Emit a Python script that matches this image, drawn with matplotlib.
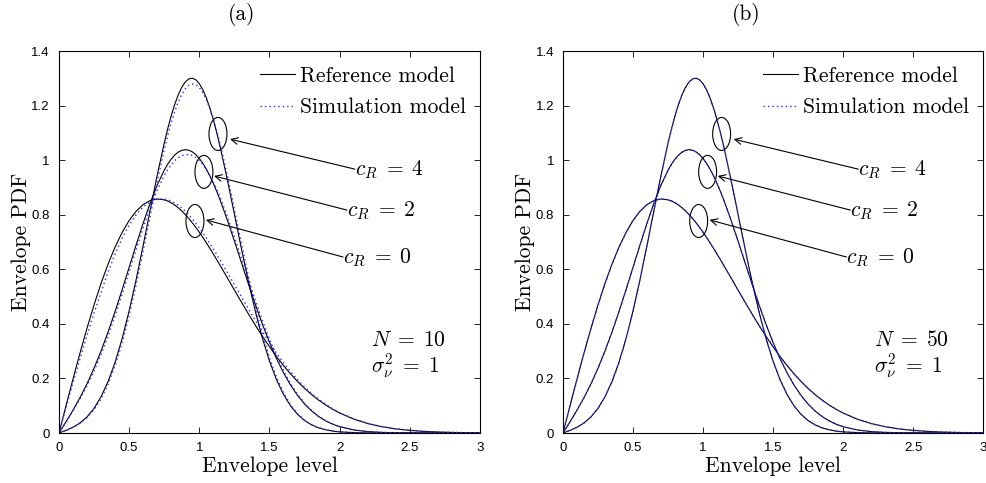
import matplotlib
matplotlib.use("Agg")
import matplotlib.pyplot as plt
from matplotlib.patches import Ellipse
from matplotlib.lines import Line2D

plt.rcParams["mathtext.fontset"] = "cm"
plt.rcParams["font.family"] = ["cmr10", "DejaVu Serif"]
plt.rcParams["axes.unicode_minus"] = False

# Envelope levels at which the PDFs are sampled (finer around the peaks)
level = [0.00, 0.05, 0.10, 0.15, 0.20, 0.25, 0.30, 0.35, 0.40, 0.45, 0.50, 0.55, 0.60, 0.65, 0.70, 0.75,
         0.775, 0.800, 0.825, 0.850, 0.875, 0.900, 0.925, 0.950, 0.975, 1.000, 1.025, 1.050, 1.075, 1.100, 1.125, 1.150,
         1.20, 1.25, 1.30, 1.35, 1.40, 1.45, 1.50, 1.55, 1.60, 1.65, 1.70, 1.75, 1.80, 1.85, 1.90, 1.95, 2.00,
         2.10, 2.20, 2.30, 2.40, 2.50, 2.60, 2.70, 2.80, 2.90, 3.00]

# Reference model envelope PDFs (c_R = 0, 2, 4)
ref_c0 = [0, 0.0998, 0.1980, 0.2933, 0.3843, 0.4697, 0.5484, 0.6193, 0.6817, 0.7350, 0.7788, 0.8129, 0.8372, 0.8520, 0.8577, 0.8547,
          0.8501, 0.8437, 0.8354, 0.8254, 0.8138, 0.8007, 0.7863, 0.7705, 0.7537, 0.7358, 0.7169, 0.6973, 0.6769, 0.6560, 0.6346, 0.6129,
          0.5686, 0.5240, 0.4798, 0.4364, 0.3944, 0.3542, 0.3162, 0.2805, 0.2474, 0.2168, 0.1890, 0.1637, 0.1410, 0.1207, 0.1028, 0.0870, 0.0733,
          0.0511, 0.0348, 0.0232, 0.0151, 0.0097, 0.0060, 0.0037, 0.0022, 0.0013, 0.0007]
ref_c2 = [0, 0.0409, 0.0836, 0.1298, 0.1807, 0.2376, 0.3008, 0.3703, 0.4455, 0.5250, 0.6071, 0.6893, 0.7690, 0.8431, 0.9087, 0.9631,
          0.9854, 1.0039, 1.0187, 1.0294, 1.0360, 1.0384, 1.0365, 1.0305, 1.0204, 1.0063, 0.9885, 0.9671, 0.9424, 0.9147, 0.8843, 0.8515,
          0.7802, 0.7037, 0.6248, 0.5462, 0.4700, 0.3982, 0.3322, 0.2728, 0.2207, 0.1757, 0.1378, 0.1064, 0.0809, 0.0606, 0.0447, 0.0324, 0.0232,
          0.0113, 0.0052, 0.0023, 0.0009, 0.0004, 0.0001, 0, 0, 0, 0]
ref_c4 = [0, 0.0095, 0.0211, 0.0369, 0.0592, 0.0904, 0.1329, 0.1886, 0.2593, 0.3458, 0.4476, 0.5626, 0.6876, 0.8170, 0.9443, 1.0622,
          1.1151, 1.1629, 1.2046, 1.2395, 1.2670, 1.2865, 1.2978, 1.3005, 1.2947, 1.2805, 1.2583, 1.2283, 1.1913, 1.1479, 1.0989, 1.0452,
          0.9275, 0.8020, 0.6758, 0.5551, 0.4443, 0.3467, 0.2637, 0.1955, 0.1413, 0.0995, 0.0684, 0.0458, 0.0299, 0.0190, 0.0118, 0.0071, 0.0042,
          0.0014, 0.0004, 0.0001, 0, 0, 0, 0, 0, 0, 0]

# Simulation model, N = 10
sim10_c0 = [0, 0.0925, 0.1838, 0.2728, 0.3584, 0.4396, 0.5154, 0.5899, 0.6562, 0.7136, 0.7617, 0.8001, 0.8286, 0.8475, 0.8572, 0.8578,
            0.8549, 0.8502, 0.8434, 0.8349, 0.8246, 0.8128, 0.7996, 0.7849, 0.7690, 0.7520, 0.7338, 0.7149, 0.6950, 0.6746, 0.6536, 0.6322,
            0.5882, 0.5436, 0.4991, 0.4552, 0.4125, 0.3714, 0.3324, 0.2929, 0.2576, 0.2250, 0.1954, 0.1690, 0.1453, 0.1241, 0.1055, 0.0891, 0.0748,
            0.0521, 0.0353, 0.0235, 0.0153, 0.0098, 0.0061, 0.0037, 0.0022, 0.0013, 0.0007]
sim10_c2 = [0, 0.0395, 0.0807, 0.1249, 0.1735, 0.2276, 0.2875, 0.3558, 0.4300, 0.5088, 0.5904, 0.6723, 0.7517, 0.8253, 0.8901, 0.9433,
            0.9652, 0.9833, 0.9982, 1.0090, 1.0167, 1.0203, 1.0206, 1.0168, 1.0097, 0.9986, 0.9841, 0.9660, 0.9444, 0.9197, 0.8917, 0.8612,
            0.7931, 0.7184, 0.6403, 0.5617, 0.4848, 0.4120, 0.3447, 0.2828, 0.2285, 0.1815, 0.1420, 0.1092, 0.0827, 0.0617, 0.0453, 0.0327, 0.0233,
            0.0114, 0.0052, 0.0023, 0.0009, 0.0004, 0.0001, 0, 0, 0, 0]
sim10_c4 = [0, 0.0092, 0.0204, 0.0354, 0.0564, 0.0855, 0.1250, 0.1785, 0.2467, 0.3307, 0.4303, 0.5434, 0.6667, 0.7951, 0.9215, 1.0383,
            1.0905, 1.1377, 1.1789, 1.2134, 1.2413, 1.2612, 1.2744, 1.2790, 1.2766, 1.2659, 1.2482, 1.2227, 1.1903, 1.1515, 1.1063, 1.0564,
            0.9438, 0.8207, 0.6951, 0.5736, 0.4610, 0.3611, 0.2758, 0.2041, 0.1471, 0.1031, 0.0705, 0.0470, 0.0304, 0.0192, 0.0119, 0.0071, 0.0042,
            0.0014, 0.0004, 0.0001, 0, 0, 0, 0, 0, 0, 0]

# Simulation model, N = 50
sim50_c0 = [0, 0.0990, 0.1968, 0.2918, 0.3826, 0.4679, 0.5466, 0.6177, 0.6803, 0.7339, 0.7781, 0.8126, 0.8372, 0.8523, 0.8582, 0.8553,
            0.8508, 0.8444, 0.8361, 0.8261, 0.8145, 0.8013, 0.7869, 0.7711, 0.7542, 0.7363, 0.7174, 0.6978, 0.6773, 0.6564, 0.6350, 0.6132,
            0.5688, 0.5241, 0.4798, 0.4364, 0.3944, 0.3542, 0.3163, 0.2806, 0.2475, 0.2169, 0.1891, 0.1638, 0.1411, 0.1208, 0.1029, 0.0871, 0.0734,
            0.0512, 0.0349, 0.0232, 0.0151, 0.0097, 0.0060, 0.0037, 0.0022, 0.0013, 0.0007]
sim50_c2 = [0, 0.0406, 0.0831, 0.1291, 0.1799, 0.2367, 0.2998, 0.3693, 0.4445, 0.5240, 0.6062, 0.6885, 0.7683, 0.8424, 0.9080, 0.9624,
            0.9847, 1.0031, 1.0179, 1.0286, 1.0352, 1.0377, 1.0359, 1.0300, 1.0200, 1.0061, 0.9884, 0.9671, 0.9425, 0.9149, 0.8845, 0.8518,
            0.7806, 0.7041, 0.6252, 0.5465, 0.4703, 0.3984, 0.3323, 0.2729, 0.2208, 0.1758, 0.1378, 0.1064, 0.0809, 0.0606, 0.0447, 0.0324, 0.0232,
            0.0113, 0.0052, 0.0023, 0.0009, 0.0004, 0.0001, 0, 0, 0, 0]
sim50_c4 = [0, 0.0094, 0.0209, 0.0366, 0.0588, 0.0899, 0.1322, 0.1878, 0.2584, 0.3448, 0.4466, 0.5616, 0.6866, 0.8160, 0.9432, 1.0610,
            1.1139, 1.1617, 1.2034, 1.2382, 1.2657, 1.2852, 1.2965, 1.2993, 1.2936, 1.2796, 1.2577, 1.2279, 1.1911, 1.1479, 1.0991, 1.0455,
            0.9280, 0.8025, 0.6763, 0.5555, 0.4446, 0.3469, 0.2638, 0.1956, 0.1414, 0.0996, 0.0684, 0.0458, 0.0299, 0.0190, 0.0118, 0.0071, 0.0042,
            0.0014, 0.0004, 0.0001, 0, 0, 0, 0, 0, 0, 0]

x_ticks = [0, 0.5, 1, 1.5, 2, 2.5, 3]
x_tick_labels = ["0", "0.5", "1", "1.5", "2", "2.5", "3"]
y_ticks = [0, 0.2, 0.4, 0.6, 0.8, 1.0, 1.2, 1.4]
y_tick_labels = ["0", "0.2", "0.4", "0.6", "0.8", "1", "1.2", "1.4"]

rice_factors = [r"$c_R \;=\; 4$", r"$c_R \;=\; 2$", r"$c_R \;=\; 0$"]
# ellipse centre, arrow head, arrow tail (data coordinates)
callouts = [((1.133, 1.096), (1.219, 1.077), (2.109, 0.967)),
            ((1.033, 0.957), (1.105, 0.942), (2.052, 0.817)),
            ((0.969, 0.777), (1.047, 0.781), (2.024, 0.645))]

SIM_COLOR = "#2a2aff"
TEXT_SIZE = 15.5


def draw_panel(ax, sims, n_text):
    for ref in (ref_c0, ref_c2, ref_c4):
        ax.plot(level, ref, color="black", lw=0.8)
    for sim in sims:
        ax.plot(level, sim, color=SIM_COLOR, lw=1.0, ls=(0, (1, 2.2)))

    ax.set_xlim(0, 3)
    ax.set_ylim(0, 1.4)
    ax.set_xticks(x_ticks)
    ax.set_xticklabels(x_tick_labels, fontfamily="Liberation Sans", fontsize=9.5)
    ax.set_yticks(y_ticks)
    ax.set_yticklabels(y_tick_labels, fontfamily="Liberation Sans", fontsize=9.5)
    ax.tick_params(direction="in", top=True, right=True, length=4, width=0.6, pad=6.5)
    for sp in ax.spines.values():
        sp.set_linewidth(0.8)

    ax.set_xlabel("Envelope level", fontsize=TEXT_SIZE)
    ax.set_ylabel("Envelope PDF", fontsize=TEXT_SIZE)
    ax.xaxis.set_label_coords(0.5, -0.062)
    ax.yaxis.set_label_coords(-0.066, 0.5)

    for label, (centre, head, tail) in zip(rice_factors, callouts):
        ax.add_patch(Ellipse(centre, 0.128, 0.121, fill=False, lw=0.8, color="black"))
        ax.annotate("", xy=head, xytext=tail,
                    arrowprops=dict(arrowstyle="->", lw=0.8, color="black",
                                    shrinkA=0, shrinkB=0, mutation_scale=12))
        ax.text(tail[0], tail[1], label, fontsize=TEXT_SIZE, ha="left", va="center")

    ax.text(2.22, 0.341, n_text, fontsize=TEXT_SIZE, ha="left", va="center")
    ax.text(2.22, 0.2455, r"$\sigma_\nu^2 \;=\; 1$", fontsize=TEXT_SIZE, ha="left", va="center")

    handles = [Line2D([], [], color="black", lw=0.8),
               Line2D([], [], color=SIM_COLOR, lw=1.0, ls=(0, (1, 2.2)))]
    ax.legend(handles, ["Reference model", "Simulation model"], loc="upper right",
              bbox_to_anchor=(0.967, 0.96), frameon=False, fontsize=TEXT_SIZE,
              handlelength=1.6, handletextpad=0.25, labelspacing=0.55,
              borderpad=0, borderaxespad=0)


fig = plt.figure(figsize=(9.86, 4.83), dpi=100)
ax_a = fig.add_axes([0.0598, 0.1035, 0.4270, 0.7909])
ax_b = fig.add_axes([0.5710, 0.1035, 0.4260, 0.7909])

draw_panel(ax_a, (sim10_c0, sim10_c2, sim10_c4), r"$N \;=\; 10$")
draw_panel(ax_b, (sim50_c0, sim50_c2, sim50_c4), r"$N \;=\; 50$")

fig.text(0.2454, 0.969, "(a)", fontsize=TEXT_SIZE, ha="center", va="center")
fig.text(0.7566, 0.969, "(b)", fontsize=TEXT_SIZE, ha="center", va="center")

fig.savefig("out.png", dpi=100)
